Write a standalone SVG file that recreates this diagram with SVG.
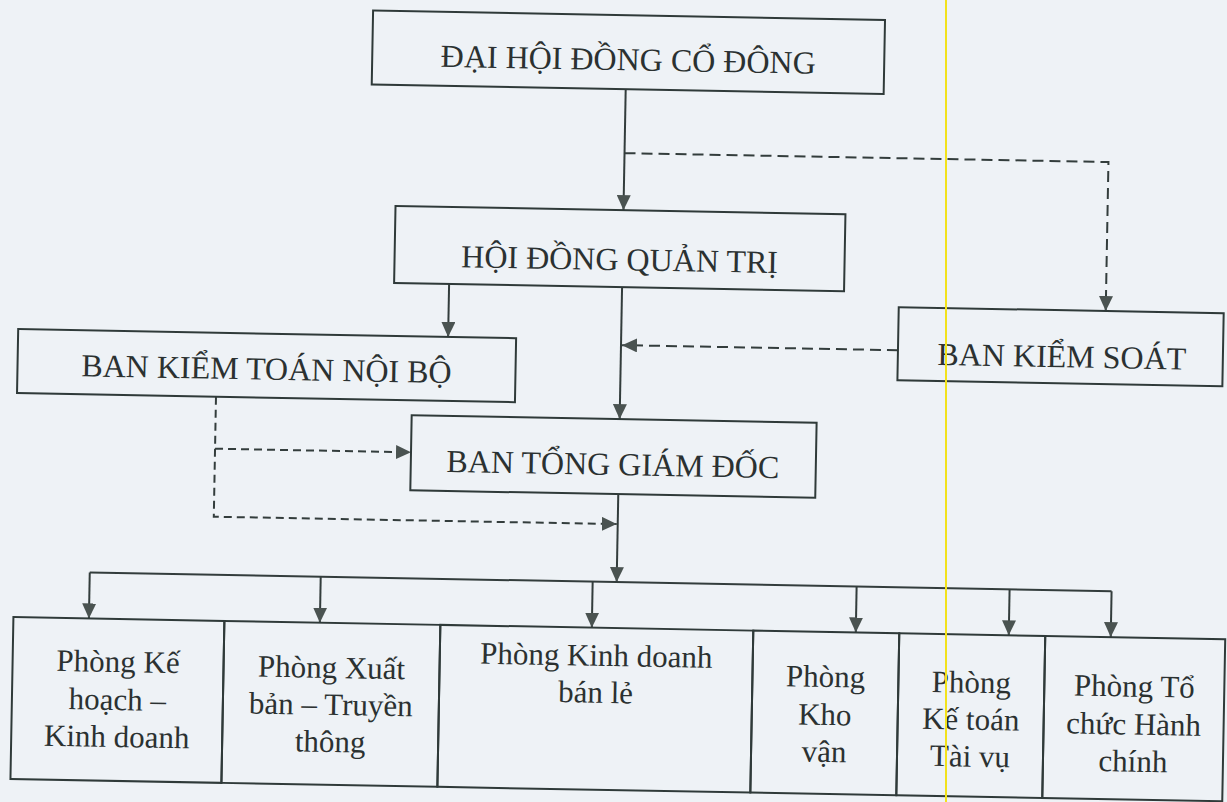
<svg xmlns="http://www.w3.org/2000/svg" width="1227" height="802" viewBox="0 0 1227 802">
<style>
.bg{fill:#eef2f6}
.box{fill:none;stroke:#2f3a39;stroke-width:2}
.t{font-family:"Liberation Serif","Times New Roman",serif;font-size:32px;fill:#2b3131;text-anchor:middle}
.b{font-size:31px}
.s{fill:none;stroke:#333d3c;stroke-width:2}
.d1{fill:none;stroke:#333d3c;stroke-width:2;stroke-dasharray:11 6}
.d2{fill:none;stroke:#333d3c;stroke-width:2;stroke-dasharray:8 5}
</style>
<defs>
<marker id="ah" viewBox="0 0 15 14" refX="15" refY="7" markerWidth="15" markerHeight="14" markerUnits="userSpaceOnUse" orient="auto">
<path d="M0,0 L15,7 L0,14 z" fill="#4a5351"/>
</marker>
</defs>
<rect class="bg" x="0" y="0" width="1227" height="802"/>
<g transform="rotate(1.05 613 400)">
<g id="connectors">
<path class="s" d="M620,89 V210" marker-end="url(#ah)"/>
<path class="d1" d="M620,153 H1104 V302" marker-end="url(#ah)"/>
<path class="s" d="M620,287 V419" marker-end="url(#ah)"/>
<path class="d1" d="M897,345 H621" marker-end="url(#ah)"/>
<path class="s" d="M447,287 V340" marker-end="url(#ah)"/>
<path class="d2" d="M216,404 V524 H619" marker-end="url(#ah)"/>
<path class="d2" d="M216,456 H412" marker-end="url(#ah)"/>
<path class="s" d="M620,494 V582" marker-end="url(#ah)"/>
<path class="s" d="M93,582 H1115"/>
<path class="s" d="M93,582 V628" marker-end="url(#ah)"/>
<path class="s" d="M324,582 V628" marker-end="url(#ah)"/>
<path class="s" d="M596,582 V628" marker-end="url(#ah)"/>
<path class="s" d="M860,582 V628" marker-end="url(#ah)"/>
<path class="s" d="M1013,582 V628" marker-end="url(#ah)"/>
<path class="s" d="M1115,582 V628" marker-end="url(#ah)"/>
</g>
<g id="dhdcd">
<rect class="box" x="366" y="15" width="512" height="74"/>
<text class="t" x="622" y="70">ĐẠI HỘI ĐỒNG CỔ ĐÔNG</text>
</g>
<g id="hdqt">
<rect class="box" x="392" y="210" width="450" height="77"/>
<text class="t" x="617" y="270">HỘI ĐỒNG QUẢN TRỊ</text>
</g>
<g id="bktnb">
<rect class="box" x="17" y="340" width="498" height="64"/>
<text class="t" x="266" y="386">BAN KIỂM TOÁN NỘI BỘ</text>
</g>
<g id="bks">
<rect class="box" x="897" y="302" width="325" height="73"/>
<text class="t" x="1061" y="359">BAN KIỂM SOÁT</text>
</g>
<g id="btgd">
<rect class="box" x="412" y="419" width="405" height="75"/>
<text class="t" x="614" y="475">BAN TỔNG GIÁM ĐỐC</text>
</g>
<g id="p1">
<rect class="box" x="17.5" y="628" width="211" height="162"/>
<text class="t b" x="123" y="681">Phòng Kế</text>
<text class="t b" x="123" y="719">hoạch –</text>
<text class="t b" x="123" y="756">Kinh doanh</text>
</g>
<g id="p2">
<rect class="box" x="228.5" y="628" width="216" height="162"/>
<text class="t b" x="336.5" y="683">Phòng Xuất</text>
<text class="t b" x="336.5" y="720">bản – Truyền</text>
<text class="t b" x="336.5" y="757">thông</text>
</g>
<g id="p3">
<rect class="box" x="444.5" y="628" width="313" height="162"/>
<text class="t b" x="601" y="666">Phòng Kinh doanh</text>
<text class="t b" x="601" y="703">bán lẻ</text>
</g>
<g id="p4">
<rect class="box" x="757.5" y="628" width="146" height="162"/>
<text class="t b" x="830.5" y="683">Phòng</text>
<text class="t b" x="830.5" y="721">Kho</text>
<text class="t b" x="830.5" y="758">vận</text>
</g>
<g id="p5">
<rect class="box" x="903.5" y="628" width="146" height="162"/>
<text class="t b" x="976.5" y="686">Phòng</text>
<text class="t b" x="976.5" y="723">Kế toán</text>
<text class="t b" x="976.5" y="760">Tài vụ</text>
</g>
<g id="p6">
<rect class="box" x="1049.5" y="628" width="180" height="162"/>
<text class="t b" x="1139.5" y="687">Phòng Tổ</text>
<text class="t b" x="1139.5" y="725">chức Hành</text>
<text class="t b" x="1139.5" y="762">chính</text>
</g>
</g>
<line x1="946" y1="0" x2="946" y2="802" stroke="#f2e21c" stroke-width="2"/>
</svg>
